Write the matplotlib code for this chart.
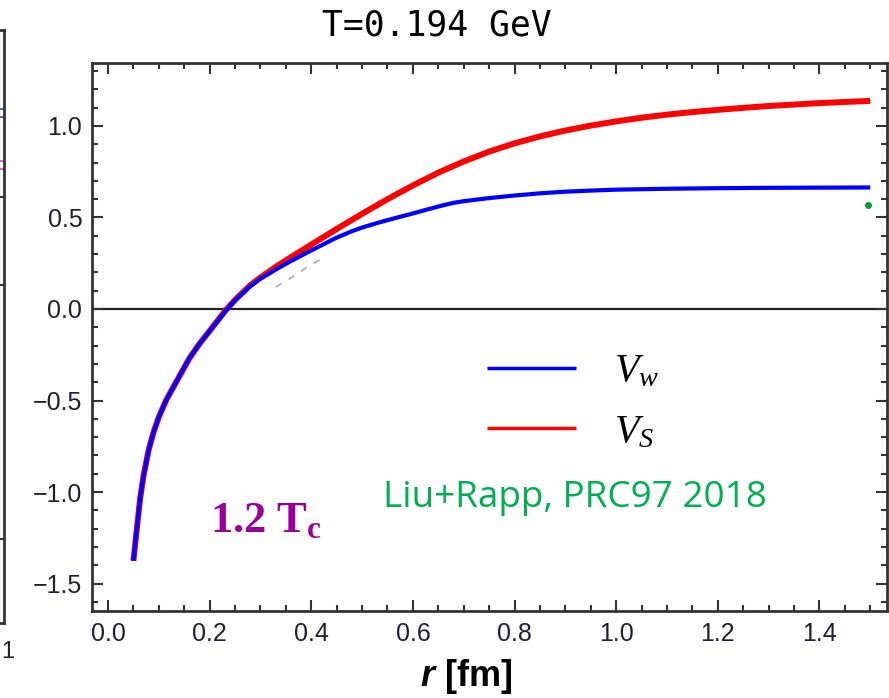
import numpy as np
import matplotlib.pyplot as plt
from matplotlib.ticker import MultipleLocator, FuncFormatter

plt.rcParams['mathtext.fontset'] = 'custom'
plt.rcParams['mathtext.it'] = 'Liberation Serif:italic'
plt.rcParams['mathtext.rm'] = 'Liberation Serif:bold'
plt.rcParams['mathtext.bf'] = 'Liberation Sans:italic:bold'

# V_w (blue) and V_S (red) potentials vs r
r_w = [0.05, 0.056, 0.063, 0.07, 0.08, 0.09, 0.10, 0.115, 0.13, 0.145, 0.16, 0.18, 0.20,
       0.215, 0.23, 0.25, 0.28, 0.30, 0.33, 0.36, 0.40, 0.45, 0.48, 0.50, 0.53, 0.56,
       0.60, 0.63, 0.66, 0.68, 0.70, 0.75, 0.80, 0.85, 0.90, 0.95, 1.00, 1.10, 1.20,
       1.30, 1.40, 1.50]
v_w = [-1.376, -1.22, -1.04, -0.91, -0.77, -0.67, -0.59, -0.495, -0.42, -0.345, -0.27,
       -0.19, -0.12, -0.068, -0.016, 0.048, 0.125, 0.165, 0.215, 0.262, 0.32, 0.39, 0.425,
       0.445, 0.47, 0.493, 0.522, 0.545, 0.567, 0.58, 0.589, 0.606, 0.62, 0.632, 0.641,
       0.647, 0.652, 0.657, 0.66, 0.662, 0.663, 0.664]

r_s = [0.05, 0.056, 0.063, 0.07, 0.08, 0.09, 0.10, 0.115, 0.13, 0.145, 0.16, 0.18, 0.20,
       0.215, 0.23, 0.25, 0.28, 0.30, 0.33, 0.36, 0.40, 0.45, 0.50, 0.55, 0.60, 0.65,
       0.70, 0.75, 0.80, 0.85, 0.90, 0.95, 1.00, 1.05, 1.10, 1.15, 1.20, 1.25, 1.30,
       1.35, 1.40, 1.45, 1.50]
v_s = [-1.376, -1.22, -1.04, -0.91, -0.77, -0.67, -0.59, -0.495, -0.42, -0.345, -0.27,
       -0.19, -0.12, -0.066, -0.012, 0.05, 0.13, 0.172, 0.23, 0.283, 0.352, 0.437, 0.52,
       0.60, 0.675, 0.745, 0.806, 0.86, 0.905, 0.943, 0.975, 1.002, 1.025, 1.045, 1.062,
       1.076, 1.088, 1.099, 1.109, 1.117, 1.125, 1.131, 1.137]

# leftover dashed piece of a hidden curve and the green mark at the end
r_dash = [0.33, 0.36, 0.39, 0.43]
v_dash = [0.12, 0.17, 0.225, 0.29]
r_green = [1.496]
v_green = [0.57]

tick_col = '#202030'


def fmt(v, pos):
    return ('%.1f' % v).replace('-', '\u2212')


fig = plt.figure(figsize=(8.89, 6.98), dpi=100)

# edge of the neighbouring panel, cut off at the left border
axl = fig.add_axes([-300 / 889, 75 / 698, 304 / 889, 593 / 698])
axl.set_xlim(0, 1)
axl.set_ylim(0, 1)
axl.plot([0.995], [0.86], 's', ms=6, mfc='none', mec='#3040d0', mew=1.2)
axl.plot([0.995], [0.772], 's', ms=6, mfc='none', mec='#e040e0', mew=1.2)
for s in axl.spines.values():
    s.set_color('#333333')
    s.set_linewidth(2)
axl.set_xticks([])
axl.set_yticks([0.142, 0.57, 0.718])
axl.tick_params(axis='y', direction='in', right=True, left=False, labelleft=False,
                length=7, width=1.5, color='#333333')
fig.text(8 / 889, 1 - 652 / 698, '1', fontsize=17, color=tick_col,
         family='Liberation Sans', ha='center', va='center')

ax = fig.add_axes([92 / 889, 87 / 698, 795 / 889, 548 / 698])
ax.plot(r_s, v_s, color='#ff0000', lw=4.3, solid_capstyle='butt', label=r'$V_S$')
ax.plot(r_w, v_w, color='#0000ff', lw=3.0, solid_capstyle='butt', label=r'$V_w$')
ax.plot(r_dash, v_dash, color='#aaaaaa', lw=1.2, ls=(0, (4, 5)))
ax.plot(r_green, v_green, 'o', ms=4, color='#00a030')
ax.axhline(0, color='#222222', lw=1.6, zorder=1)

ax.set_xlim(-0.0315, 1.533)
ax.set_ylim(-1.65, 1.344)
ax.xaxis.set_major_locator(MultipleLocator(0.2))
ax.xaxis.set_minor_locator(MultipleLocator(0.05))
ax.yaxis.set_major_locator(MultipleLocator(0.5))
ax.yaxis.set_minor_locator(MultipleLocator(0.1))
ax.xaxis.set_major_formatter(FuncFormatter(fmt))
ax.yaxis.set_major_formatter(FuncFormatter(fmt))
ax.tick_params(which='both', direction='in', top=True, right=True,
               color='#333333', width=1.5, labelcolor=tick_col, labelsize=18)
ax.tick_params(which='major', length=8)
ax.tick_params(which='minor', length=4.5)
ax.tick_params(axis='y', pad=7)
ax.tick_params(axis='x', pad=8)
for lab in ax.get_xticklabels() + ax.get_yticklabels():
    lab.set_family('Liberation Sans')
for s in ax.spines.values():
    s.set_color('#333333')
    s.set_linewidth(2)

h, l = ax.get_legend_handles_labels()
leg = ax.legend(h[::-1], l[::-1], loc='upper left', bbox_to_anchor=(0.497, 0.475),
                frameon=False, fontsize=29, handlelength=2.2, handletextpad=0.95,
                labelspacing=0.5, borderpad=0, borderaxespad=0)
for ln in leg.get_lines():
    ln.set_linewidth(2.5)

ax.text(0.2, -1.22, r'1.2 T$_{\mathrm{c}}$', color='#990099', fontsize=32,
        family='Liberation Serif', fontweight='bold', va='baseline')
ax.text(0.541, -1.082, 'Liu+Rapp, PRC97 2018', color='#00b050', fontsize=26.6,
        family='Open Sans', va='baseline')

fig.text(437 / 889, 1 - 25 / 698, 'T=0.194 GeV', family='DejaVu Sans Mono',
         fontsize=25, ha='center', va='center')
fig.text(466 / 889, 1 - 677 / 698, r'$\mathbf{r}$ [fm]', family='Liberation Sans',
         fontweight='bold', fontsize=26, ha='center', va='center')

fig.savefig('out.png', dpi=100)
